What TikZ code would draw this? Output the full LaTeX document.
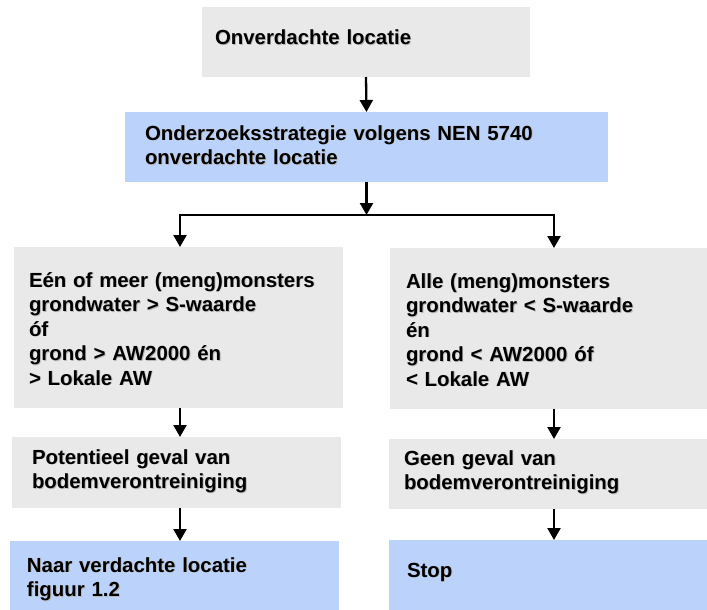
\documentclass[tikz,border=0pt]{standalone}
\usepackage{fontspec}
\setmainfont{Liberation Sans}
\usetikzlibrary{arrows.meta}
\definecolor{boxgray}{HTML}{E9E9E9}
\definecolor{boxblue}{HTML}{BBD2FB}
\newcommand\shd[1]{\makebox[0pt][l]{\kern0.9pt\raisebox{-0.9pt}{\textcolor{black!28}{#1}}}#1}
\tikzset{
  gbox/.style={rectangle, fill=boxgray, draw=none, inner sep=0pt, outer sep=0pt, anchor=north west},
  bbox/.style={rectangle, fill=boxblue, draw=none, inner sep=0pt, outer sep=0pt, anchor=north west},
  txt/.style={anchor=base west, inner sep=0pt, outer sep=0pt, text width=300pt, align=left,
    font=\fontsize{20.4}{24.5}\selectfont\bfseries},
  arr/.style={line width=2.3pt, -{Triangle[width=13pt,length=12pt]}},
  ln/.style={line width=2.6pt}
}
\begin{document}
\begin{tikzpicture}[x=1pt,y=-1pt]
\useasboundingbox (0,0) rectangle (707,610);
\fill[white] (0,0) rectangle (707,610);
% boxes
\node[gbox, minimum width=328pt, minimum height=70pt] (b1) at (202,7) {};
\node[bbox, minimum width=483pt, minimum height=70pt] (b2) at (125,112) {};
\node[gbox, minimum width=329pt, minimum height=161pt] (b3l) at (14,247) {};
\node[gbox, minimum width=317pt, minimum height=161pt] (b3r) at (390,248) {};
\node[gbox, minimum width=329pt, minimum height=71pt] (b4l) at (12,437) {};
\node[gbox, minimum width=318pt, minimum height=70pt] (b4r) at (389,439) {};
\node[bbox, minimum width=329pt, minimum height=69pt] (b5l) at (10,541) {};
\node[bbox, minimum width=318pt, minimum height=70pt] (b5r) at (389,540) {};
% texts
\node[txt] (t1) at (215,45) {\shd{Onverdachte locatie}};
\node[txt, text width=440pt] (t2) at (145,140) {\shd{Onderzoeksstrategie volgens NEN 5740}\\\shd{onverdachte locatie}};
\node[txt] (t3l) at (29,287) {\shd{Eén of meer (meng)monsters}\\\shd{grondwater > S-waarde}\\\shd{óf}\\\shd{grond > AW2000 én}\\\shd{> Lokale AW}};
\node[txt] (t3r) at (406,288) {\shd{Alle (meng)monsters}\\\shd{grondwater < S-waarde}\\\shd{én}\\\shd{grond < AW2000 óf}\\\shd{< Lokale AW}};
\node[txt] (t4l) at (32,464) {\shd{Potentieel geval van}\\\shd{bodemverontreiniging}};
\node[txt] (t4r) at (404,465) {\shd{Geen geval van}\\\shd{bodemverontreiniging}};
\node[txt] (t5l) at (27,572) {\shd{Naar verdachte locatie}\\\shd{figuur 1.2}};
\node[txt] (t5r) at (407,577) {\shd{Stop}};
% connectors
\coordinate (jm) at (366.5,215);
\coordinate (jl) at (180,215);
\coordinate (jr) at (554,215);
\draw[arr] (b1.south) -- (b2.north);
\draw[arr] (b2.south) -- (jm);
\draw[ln, line join=miter] (jl |- b3l.north) ++(0,-12) -- (jl) -- (jr) -- ++(0,12);
\draw[arr] (jl) -- (jl |- b3l.north);
\draw[arr] (jr) -- (jr |- b3r.north);
\draw[arr] (jl |- b3l.south) -- (jl |- b4l.north);
\draw[arr] (jr |- b3r.south) -- (jr |- b4r.north);
\draw[arr] (jl |- b4l.south) -- (jl |- b5l.north);
\draw[arr] (jr |- b4r.south) -- (jr |- b5r.north);
\end{tikzpicture}
\end{document}
